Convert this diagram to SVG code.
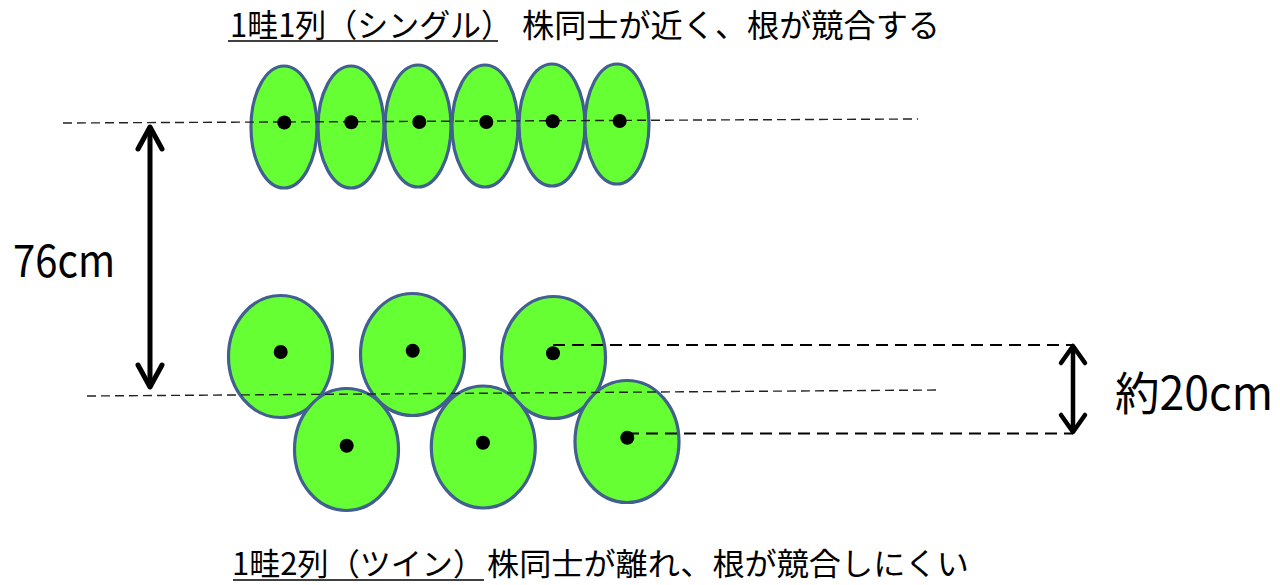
<svg xmlns="http://www.w3.org/2000/svg" width="1280" height="585" viewBox="0 0 1280 585">
<style>
.plant{fill:#66FF33;stroke:#41608F;stroke-width:3.2}
.dot{fill:#000}
.guide{fill:none;stroke:#222;stroke-width:1.4;stroke-dasharray:9 5}
.guide2{fill:none;stroke:#000;stroke-width:2;stroke-dasharray:12 7}
.arrow{fill:none;stroke:#000;stroke-linecap:round;stroke-linejoin:round}
.t{font-family:"Noto Sans CJK JP","Noto Sans",sans-serif;fill:#000}
.ul{stroke:#000;stroke-width:1.6}
</style>
<rect width="1280" height="585" fill="#fff"/>
<g id="title-single">
<text class="t" x="230" y="37" font-size="32" textLength="282" lengthAdjust="spacingAndGlyphs">1畦1列（シングル）</text>
<line class="ul" x1="228" y1="41" x2="498" y2="41"/>
<text class="t" x="522" y="37" font-size="32" textLength="418" lengthAdjust="spacingAndGlyphs">株同士が近く、根が競合する</text>
</g>
<g id="single-row">
<ellipse class="plant" cx="284" cy="127" rx="33" ry="61"/>
<ellipse class="plant" cx="351" cy="127" rx="33" ry="61"/>
<ellipse class="plant" cx="418" cy="126" rx="33" ry="61"/>
<ellipse class="plant" cx="485" cy="126" rx="33" ry="61"/>
<ellipse class="plant" cx="552" cy="125" rx="33" ry="61"/>
<ellipse class="plant" cx="617" cy="124" rx="32" ry="60"/>
</g>
<g id="twin-row">
<ellipse class="plant" cx="280.5" cy="356.5" rx="52" ry="61"/>
<ellipse class="plant" cx="412.5" cy="354.5" rx="52" ry="61"/>
<ellipse class="plant" cx="553.5" cy="357.5" rx="52" ry="61"/>
<ellipse class="plant" cx="346.5" cy="449.5" rx="52" ry="61"/>
<ellipse class="plant" cx="483.3" cy="447" rx="52" ry="61"/>
<ellipse class="plant" cx="627" cy="441.5" rx="52" ry="61"/>
</g>
<g id="connectors">
<line class="guide" x1="63" y1="123" x2="918" y2="119"/>
<line class="guide" x1="87" y1="396" x2="940" y2="390"/>
<line class="guide2" x1="553" y1="345" x2="1073" y2="345"/>
<line class="guide2" x1="627" y1="433.5" x2="1073" y2="433.5"/>
<g class="arrow" stroke-width="5">
<line x1="150" y1="128" x2="150" y2="386"/>
<polyline points="138,149 150,127 162,149"/>
<polyline points="138,365 150,387 162,365"/>
</g>
<g class="arrow" stroke-width="4.5">
<line x1="1073" y1="347" x2="1073" y2="431"/>
<polyline points="1061,363 1073,346 1085,363"/>
<polyline points="1061,415 1073,432 1085,415"/>
</g>
</g>
<g id="dots">
<circle class="dot" cx="284.3" cy="122.5" r="7"/>
<circle class="dot" cx="351.3" cy="122.3" r="7"/>
<circle class="dot" cx="419.3" cy="122" r="7"/>
<circle class="dot" cx="486.3" cy="122" r="7"/>
<circle class="dot" cx="552.7" cy="121.3" r="7"/>
<circle class="dot" cx="619.7" cy="121" r="7"/>
<circle class="dot" cx="280.7" cy="352" r="7"/>
<circle class="dot" cx="412.7" cy="350.7" r="7"/>
<circle class="dot" cx="553" cy="353.3" r="7"/>
<circle class="dot" cx="346.7" cy="445.7" r="7"/>
<circle class="dot" cx="483" cy="442.7" r="7"/>
<circle class="dot" cx="627.3" cy="437.7" r="7"/>
</g>
<g id="label-76">
<text class="t" x="13" y="277" font-size="45" textLength="102" lengthAdjust="spacingAndGlyphs">76cm</text>
</g>
<g id="label-20">
<text class="t" x="1115" y="410" font-size="46" textLength="158" lengthAdjust="spacingAndGlyphs">約20cm</text>
</g>
<g id="title-twin">
<text class="t" x="232" y="575" font-size="31" textLength="252" lengthAdjust="spacingAndGlyphs">1畦2列（ツイン）</text>
<line class="ul" x1="233" y1="580" x2="484" y2="580"/>
<text class="t" x="487" y="575" font-size="31" textLength="482" lengthAdjust="spacingAndGlyphs">株同士が離れ、根が競合しにくい</text>
</g>
</svg>
